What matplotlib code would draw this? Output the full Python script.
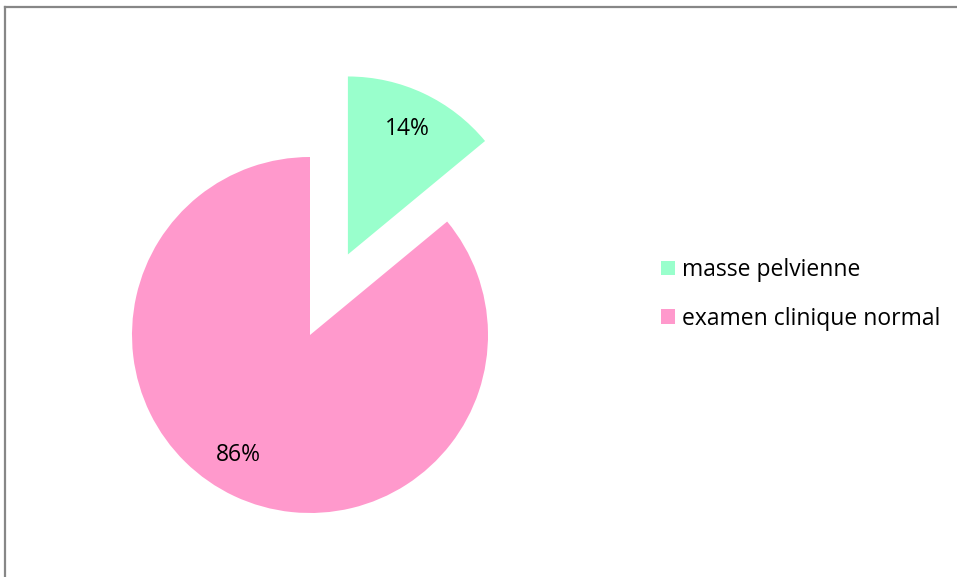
import matplotlib.pyplot as plt
from matplotlib.lines import Line2D

labels = ["masse pelvienne", "examen clinique normal"]
shares = [14, 86]
colors = ["#99FFCC", "#FF99CC"]
explode = [0.5, 0.0]

plt.rcParams["font.family"] = ["Open Sans", "DejaVu Sans"]
FS = 16.5

W, H = 957, 577
fig = plt.figure(figsize=(W / 100, H / 100), dpi=100)

# pie centre and radius in pixels
cx, cy, r = 310, 335, 178
xl, xr, yb, yt = 1.3, 1.3, 1.3, 1.6
ax = fig.add_axes([(cx - xl * r) / W, (H - cy - yb * r) / H,
                   (xl + xr) * r / W, (yb + yt) * r / H])

wedges, texts, autotexts = ax.pie(
    shares, colors=colors, explode=explode, startangle=90,
    counterclock=False, autopct="%d%%", pctdistance=0.78,
    textprops={"fontsize": FS, "color": "black"})
# the big slice's label sits a little further round
autotexts[1].set_position((-0.40, -0.675))
ax.set_xlim(-xl, xr)
ax.set_ylim(-yb, yt)
ax.set_aspect("equal")
ax.axis("off")

fig.legend(wedges, labels, loc="center left",
           bbox_to_anchor=(661 / W, 1 - 294.5 / H), frameon=False,
           fontsize=FS, handlelength=0.62, handleheight=0.62,
           handletextpad=0.28, labelspacing=1.08, borderpad=0,
           borderaxespad=0)

# chart area frame (top and left edges only)
fig.add_artist(Line2D([5 / W, 5 / W], [0, 1 - 7 / H], color="#878787",
                      lw=1.6, transform=fig.transFigure))
fig.add_artist(Line2D([5 / W, 1], [1 - 7 / H, 1 - 7 / H], color="#878787",
                      lw=1.6, transform=fig.transFigure))

fig.savefig("out.png", dpi=100)
